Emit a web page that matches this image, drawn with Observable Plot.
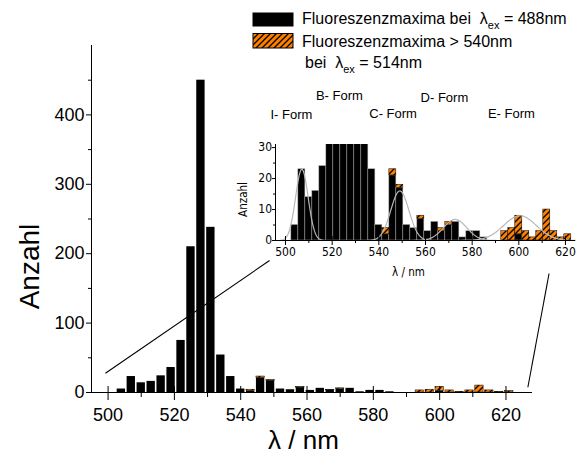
<!DOCTYPE html>
<html><head><meta charset="utf-8">
<script src="https://cdn.jsdelivr.net/npm/d3@7"></script>
<script src="https://cdn.jsdelivr.net/npm/@observablehq/plot@0.6"></script>
<style>
html,body{margin:0;padding:0;background:#fff;}
#wrap{position:relative;width:576px;height:467px;overflow:hidden;font-family:"Liberation Sans",Arial,Helvetica,sans-serif;color:#000;}
#wrap > svg, #wrap > div{position:absolute;}
.leg{font-size:16px;line-height:16px;white-space:pre;}
.sub{font-size:11px;position:relative;top:5px;}
</style></head><body>
<div id="wrap"></div>
<script>
// ---- data ----
const binCenters = [504,507,510,513,516,519,522,525,528,531,534,537,540,543,546,549,552,555,558,561,564,567,570,573,576,579,582,585,588,591,594,597,600,603,606,609,612,615,618,621];
const binWidth = 3;
const countsEx488 = [5,23,14,16,24,36,75,210,450,238,54,23,5,2,21,17,5,4,7,3,6,3,5,6,1,3,3,1,0,0,0,0,2,0,0,0,0,0,0,0];
const countsEx514 = [0,0,0,0,0,0,0,0,0,0,0,0,0,2,2,1,0,0,1,0,0,1,1,0,0,0,0,0,0,0,3,4,6,3,1,3,10,3,1,2];
const mainXTicks = [500,520,540,560,580,600,620];
const mainXMinor = [510,530,550,570,590,610];
const mainYTicks = [0,100,200,300,400];
const mainYMinor = [50,150,250,350,450];
const insetYTicks = [0,10,20,30];
const insetYMinor = [5,15,25];
const fitCenters = [507,549,572.7,600.5];
const fitHeights = [23,16,6.8,8];
const fitWidths = [2.7,3.9,5,7];
const formNames = ["I- Form","B- Form","C- Form","D- Form","E- Form"];
const legendLine1 = ["Fluoreszenzmaxima bei  λ","ex"," = 488nm"];
const legendLine2 = ["Fluoreszenzmaxima > 540nm"];
const legendLine3 = ["bei  λ","ex"," = 514nm"];

// ---- layout constants (annotation positions) ----
const formX = [502.5,523.1,546.1,568.1,596.8];
const formY = [40.6,46.8,40.8,46.0,40.8];
const connectors = [
  {x1:499.2,y1:27.8,x2:548.7,y2:190.2},
  {x1:626.6,y1:7.6,x2:633.0,y2:171.5}
];

const rows = binCenters.map((c,i)=>({x1:c-binWidth/2,x2:c+binWidth/2,b:countsEx488[i],o:countsEx514[i],t:countsEx488[i]+countsEx514[i]}));
const orangeRows = rows.filter(d=>d.o>0);
const fitPoints = [];
fitCenters.forEach((c,k)=>{
  const s = fitWidths[k], h = fitHeights[k];
  for (let x = c-3.5*s; x <= c+3.5*s+1e-9; x += 0.25) {
    fitPoints.push({k, x, y: h*Math.exp(-((x-c)**2)/(2*s*s))});
  }
});

const wrap = d3.select("#wrap");
// hatch pattern
const defsSvg = wrap.append("svg").attr("width",0).attr("height",0).style("left","0px").style("top","0px");
const pat = defsSvg.append("defs").append("pattern").attr("id","hatch")
  .attr("patternUnits","userSpaceOnUse").attr("width",6).attr("height",6);
pat.append("rect").attr("width",6).attr("height",6).attr("fill","#ff8000");
pat.append("path").attr("d","M0,6L6,0M-1,1L1,-1M5,7L7,5").attr("stroke","#000").attr("stroke-width",1.3);

const FONT = "'Liberation Sans', Arial, Helvetica, sans-serif";
const NARROW = "'Liberation Sans Narrow', 'Arial Narrow', 'DejaVu Sans Condensed', sans-serif";

const main = Plot.plot({
  width:576, height:467,
  marginLeft:91, marginRight:44, marginTop:45, marginBottom:75,
  x:{domain:[495,628]}, y:{domain:[0,500]},
  style:{background:"transparent", fontFamily:FONT, color:"#000", overflow:"visible"},
  marks:[
    Plot.rect(rows,{x1:"x1",x2:"x2",y1:0,y2:"b",fill:"#000",insetLeft:0.8,insetRight:0.8}),
    Plot.rect(orangeRows,{x1:"x1",x2:"x2",y1:"b",y2:"t",fill:"url(#hatch)",stroke:"#000",strokeWidth:0.5,insetLeft:0.8,insetRight:0.8}),
    Plot.ruleY([0],{x1:495,x2:628,stroke:"#000"}),
    Plot.ruleX([495],{y1:0,y2:500,stroke:"#000"}),
    Plot.ruleX(mainXTicks,{y1:0,y2:0,insetTop:-6,insetBottom:-8,stroke:"#000"}),
    Plot.ruleX(mainXMinor,{y1:0,y2:0,insetBottom:-5,stroke:"#000"}),
    Plot.ruleY(mainYTicks,{x1:495,x2:495,insetLeft:-5,stroke:"#000"}),
    Plot.ruleY(mainYMinor,{x1:495,x2:495,insetLeft:-3,stroke:"#000"}),
    Plot.axisX(mainXTicks,{tickSize:0,tickPadding:15.5,fontSize:18,label:null}),
    Plot.axisY(mainYTicks,{tickSize:0,tickPadding:7,fontSize:18,label:null}),
    Plot.link(connectors,{x1:"x1",y1:"y1",x2:"x2",y2:"y2",stroke:"#000",strokeWidth:1.1}),
    Plot.text(["Anzahl"],{frameAnchor:"left",textAnchor:"middle",lineAnchor:"middle",rotate:-90,dx:-61,dy:47.5,fontSize:28}),
    Plot.text(["λ / nm"],{frameAnchor:"bottom",textAnchor:"middle",lineAnchor:"middle",dx:-8.5,dy:48,fontSize:26})
  ]
});
d3.select(main).style("left","0px").style("top","0px").style("max-width","none");
wrap.node().appendChild(main);

const inset = Plot.plot({
  width:346, height:210,
  marginLeft:45, marginRight:1, marginTop:69, marginBottom:45,
  x:{domain:[495.7,624.3]}, y:{domain:[0,31]},
  style:{background:"transparent", fontFamily:NARROW, color:"#000", overflow:"visible"},
  marks:[
    Plot.rect(rows,{x1:"x1",x2:"x2",y1:0,y2:"b",fill:"#000",stroke:"#a0a0a0",strokeWidth:0.5,clip:true}),
    Plot.rect(orangeRows,{x1:"x1",x2:"x2",y1:"b",y2:"t",fill:"url(#hatch)",stroke:"#000",strokeWidth:0.5,clip:true}),
    Plot.line(fitPoints,{x:"x",y:"y",z:"k",stroke:"#b8b8b8",strokeWidth:1.2}),
    Plot.ruleY([0],{x1:495.7,x2:624.3,stroke:"#000"}),
    Plot.ruleX([495.7],{y1:0,y2:31,stroke:"#000"}),
    Plot.ruleX(mainXTicks,{y1:0,y2:0,insetTop:-4,insetBottom:-5,stroke:"#000"}),
    Plot.ruleX(mainXMinor,{y1:0,y2:0,insetBottom:-3,stroke:"#000"}),
    Plot.ruleY(insetYTicks,{x1:495.7,x2:495.7,insetLeft:-3,stroke:"#000"}),
    Plot.ruleY(insetYMinor,{x1:495.7,x2:495.7,insetLeft:-2,stroke:"#000"}),
    Plot.axisX(mainXTicks,{tickSize:0,tickPadding:7,fontSize:12,label:null}),
    Plot.axisY(insetYTicks,{tickSize:0,tickPadding:3.5,fontSize:12,label:null}),
    Plot.text(formNames,{x:formX,y:formY,fontSize:13,fontFamily:FONT,lineAnchor:"middle",clip:false}),
    Plot.text(["Anzahl"],{frameAnchor:"left",textAnchor:"middle",lineAnchor:"middle",rotate:-90,dx:-32.5,dy:7,fontSize:11.5}),
    Plot.text(["λ / nm"],{frameAnchor:"bottom",textAnchor:"middle",lineAnchor:"middle",dx:-17,dy:32,fontSize:11.5})
  ]
});
d3.select(inset).style("left","230px").style("top","75px").style("max-width","none");
wrap.node().appendChild(inset);

// legend
const sw = wrap.append("svg").attr("width",44).attr("height",40).style("left","251px").style("top","11px");
sw.append("rect").attr("x",2).attr("y",2).attr("width",40).attr("height",13).attr("fill","#000").attr("stroke","#000");
sw.append("rect").attr("x",2).attr("y",22.5).attr("width",40).attr("height",14.5).attr("fill","url(#hatch)").attr("stroke","#000").attr("stroke-width",1);
function legendLine(parts, left, top){
  const d = wrap.append("div").attr("class","leg").style("left",left+"px").style("top",top+"px");
  parts.forEach((p,i)=>{
    if (parts.length===3 && i===1) d.append("span").attr("class","sub").text(p);
    else d.append("span").text(p);
  });
}
legendLine(legendLine1, 302, 11.3);
legendLine(legendLine2, 302, 34);
legendLine(legendLine3, 305, 55);
</script>
</body></html>
